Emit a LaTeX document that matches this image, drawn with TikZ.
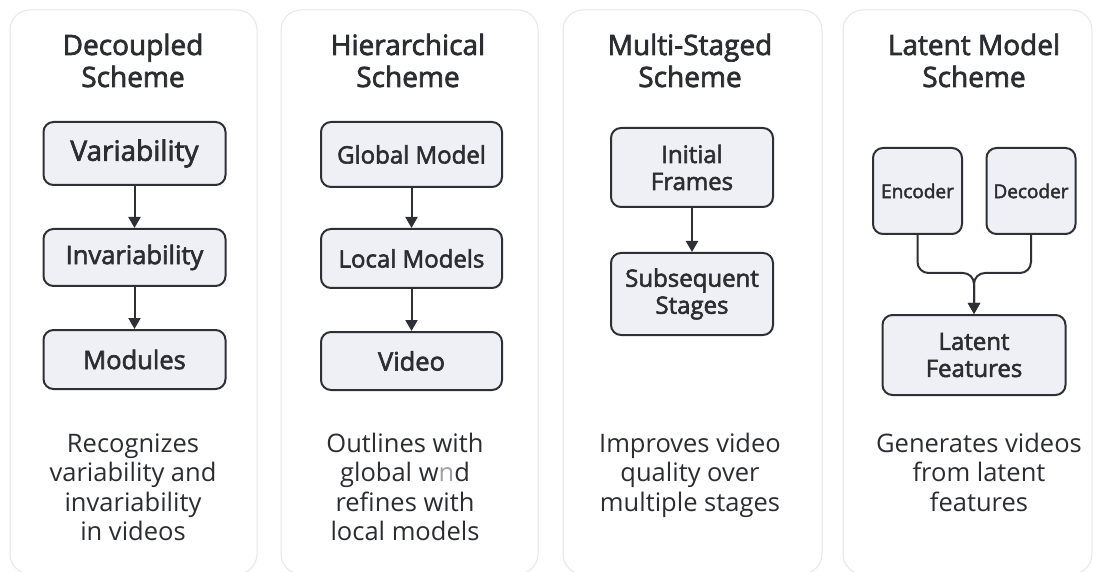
\documentclass[tikz,border=0pt]{standalone}
\usepackage{fontspec}
\setmainfont{Open Sans}
\newfontfamily\semib{Open Sans}[FakeBold=2.4]
\usetikzlibrary{arrows.meta}
\definecolor{ink}{HTML}{2B2D31}
\definecolor{boxfill}{HTML}{EEF0F5}
\definecolor{boxline}{HTML}{2E3035}
\definecolor{panelline}{HTML}{E6E6E8}
\definecolor{faint}{HTML}{A0A0A4}
\tikzset{
  panel/.style={draw=panelline, line width=1pt, fill=white, rounded corners=20pt},
  stepbox/.style={draw=boxline, fill=boxfill, line width=2pt, rounded corners=10pt,
    align=center, text=ink, inner sep=0pt, font=\semib\fontsize{24}{27}\selectfont},
  heading/.style={anchor=base, align=center, text=ink, font=\semib\fontsize{28}{32}\selectfont},
  caption/.style={anchor=base, align=center, text=ink, font=\fontsize{25.5}{29.5}\selectfont},
  flow/.style={draw=boxline, line width=2pt, -{Triangle[length=11pt,width=12pt]}},
}
\begin{document}
\begin{tikzpicture}[x=1pt,y=-1pt]
\useasboundingbox (0,0) rectangle (1093,572);
\fill[white] (0,0) rectangle (1093,572);

% four panels
\draw[panel] (10,10) rectangle (257,574);
\draw[panel] (281,10) rectangle (538,574);
\draw[panel] (563,10) rectangle (822,574);
\draw[panel] (843,10) rectangle (1092,574);

% headings (anchored on the baseline of their last line)
\node[heading] (t1) at (133,87) {Decoupled\\Scheme};
\node[heading] (t2) at (408,87) {Hierarchical\\Scheme};
\node[heading] (t3) at (690,87) {Multi-Staged\\Scheme};
\node[heading] (t4) at (974,87) {Latent Model\\Scheme};

% decoupled scheme
\node[stepbox, minimum width=182pt, minimum height=63pt, font=\semib\fontsize{28}{30}\selectfont] (var) at (134.5,153.5) {Variability};
\node[stepbox, minimum width=182pt, minimum height=57pt, font=\semib\fontsize{25.5}{30}\selectfont] (inv) at (134.5,257.5) {Invariability};
\node[stepbox, minimum width=182pt, minimum height=59pt, font=\semib\fontsize{25.5}{30}\selectfont] (mod) at (134.5,359.5) {Modules};
\draw[flow] (var) -- (inv);
\draw[flow] (inv) -- (mod);

% hierarchical scheme
\node[stepbox, minimum width=181pt, minimum height=65pt] (glob) at (411.5,154.5) {Global Model};
\node[stepbox, minimum width=181pt, minimum height=59pt] (loc) at (411.5,258.5) {Local Models};
\node[stepbox, minimum width=181pt, minimum height=58pt, font=\semib\fontsize{25.5}{30}\selectfont] (vid) at (411.5,361) {Video};
\draw[flow] (glob) -- (loc);
\draw[flow] (loc) -- (vid);

% multi-staged scheme
\node[stepbox, minimum width=162pt, minimum height=79pt] (init) at (692,167.5) {Initial\\Frames};
\node[stepbox, minimum width=162pt, minimum height=82pt] (subs) at (692,294) {Subsequent\\Stages};
\draw[flow] (init) -- (subs);

% latent model scheme
\node[stepbox, minimum width=89pt, minimum height=86pt, font=\semib\fontsize{19}{24}\selectfont] (enc) at (917.5,191) {Encoder};
\node[stepbox, minimum width=89pt, minimum height=86pt, font=\semib\fontsize{19}{24}\selectfont] (dec) at (1031,191) {Decoder};
\node[stepbox, minimum width=183pt, minimum height=80pt] (lat) at (974,355) {Latent\\Features};
\coordinate (join) at (974,273);
\draw[flow, rounded corners=11pt] (enc.south) |- (join) -- (lat.north);
\draw[flow, rounded corners=11pt] (dec.south) |- (join) -- (lat.north);

% captions (anchored on the baseline of their last line)
\node[caption] (c1) at (133,540.5) {Recognizes\\variability and\\invariability\\in videos};
\node[caption] (c2) at (405,540.5) {Outlines with\\global w{\color{faint}n}d\\refines with\\local models};
\node[caption] (c3) at (690,511) {Improves video\\quality over\\multiple stages};
\node[caption] (c4) at (979,511) {Generates videos\\from latent\\features};
\end{tikzpicture}
\end{document}
